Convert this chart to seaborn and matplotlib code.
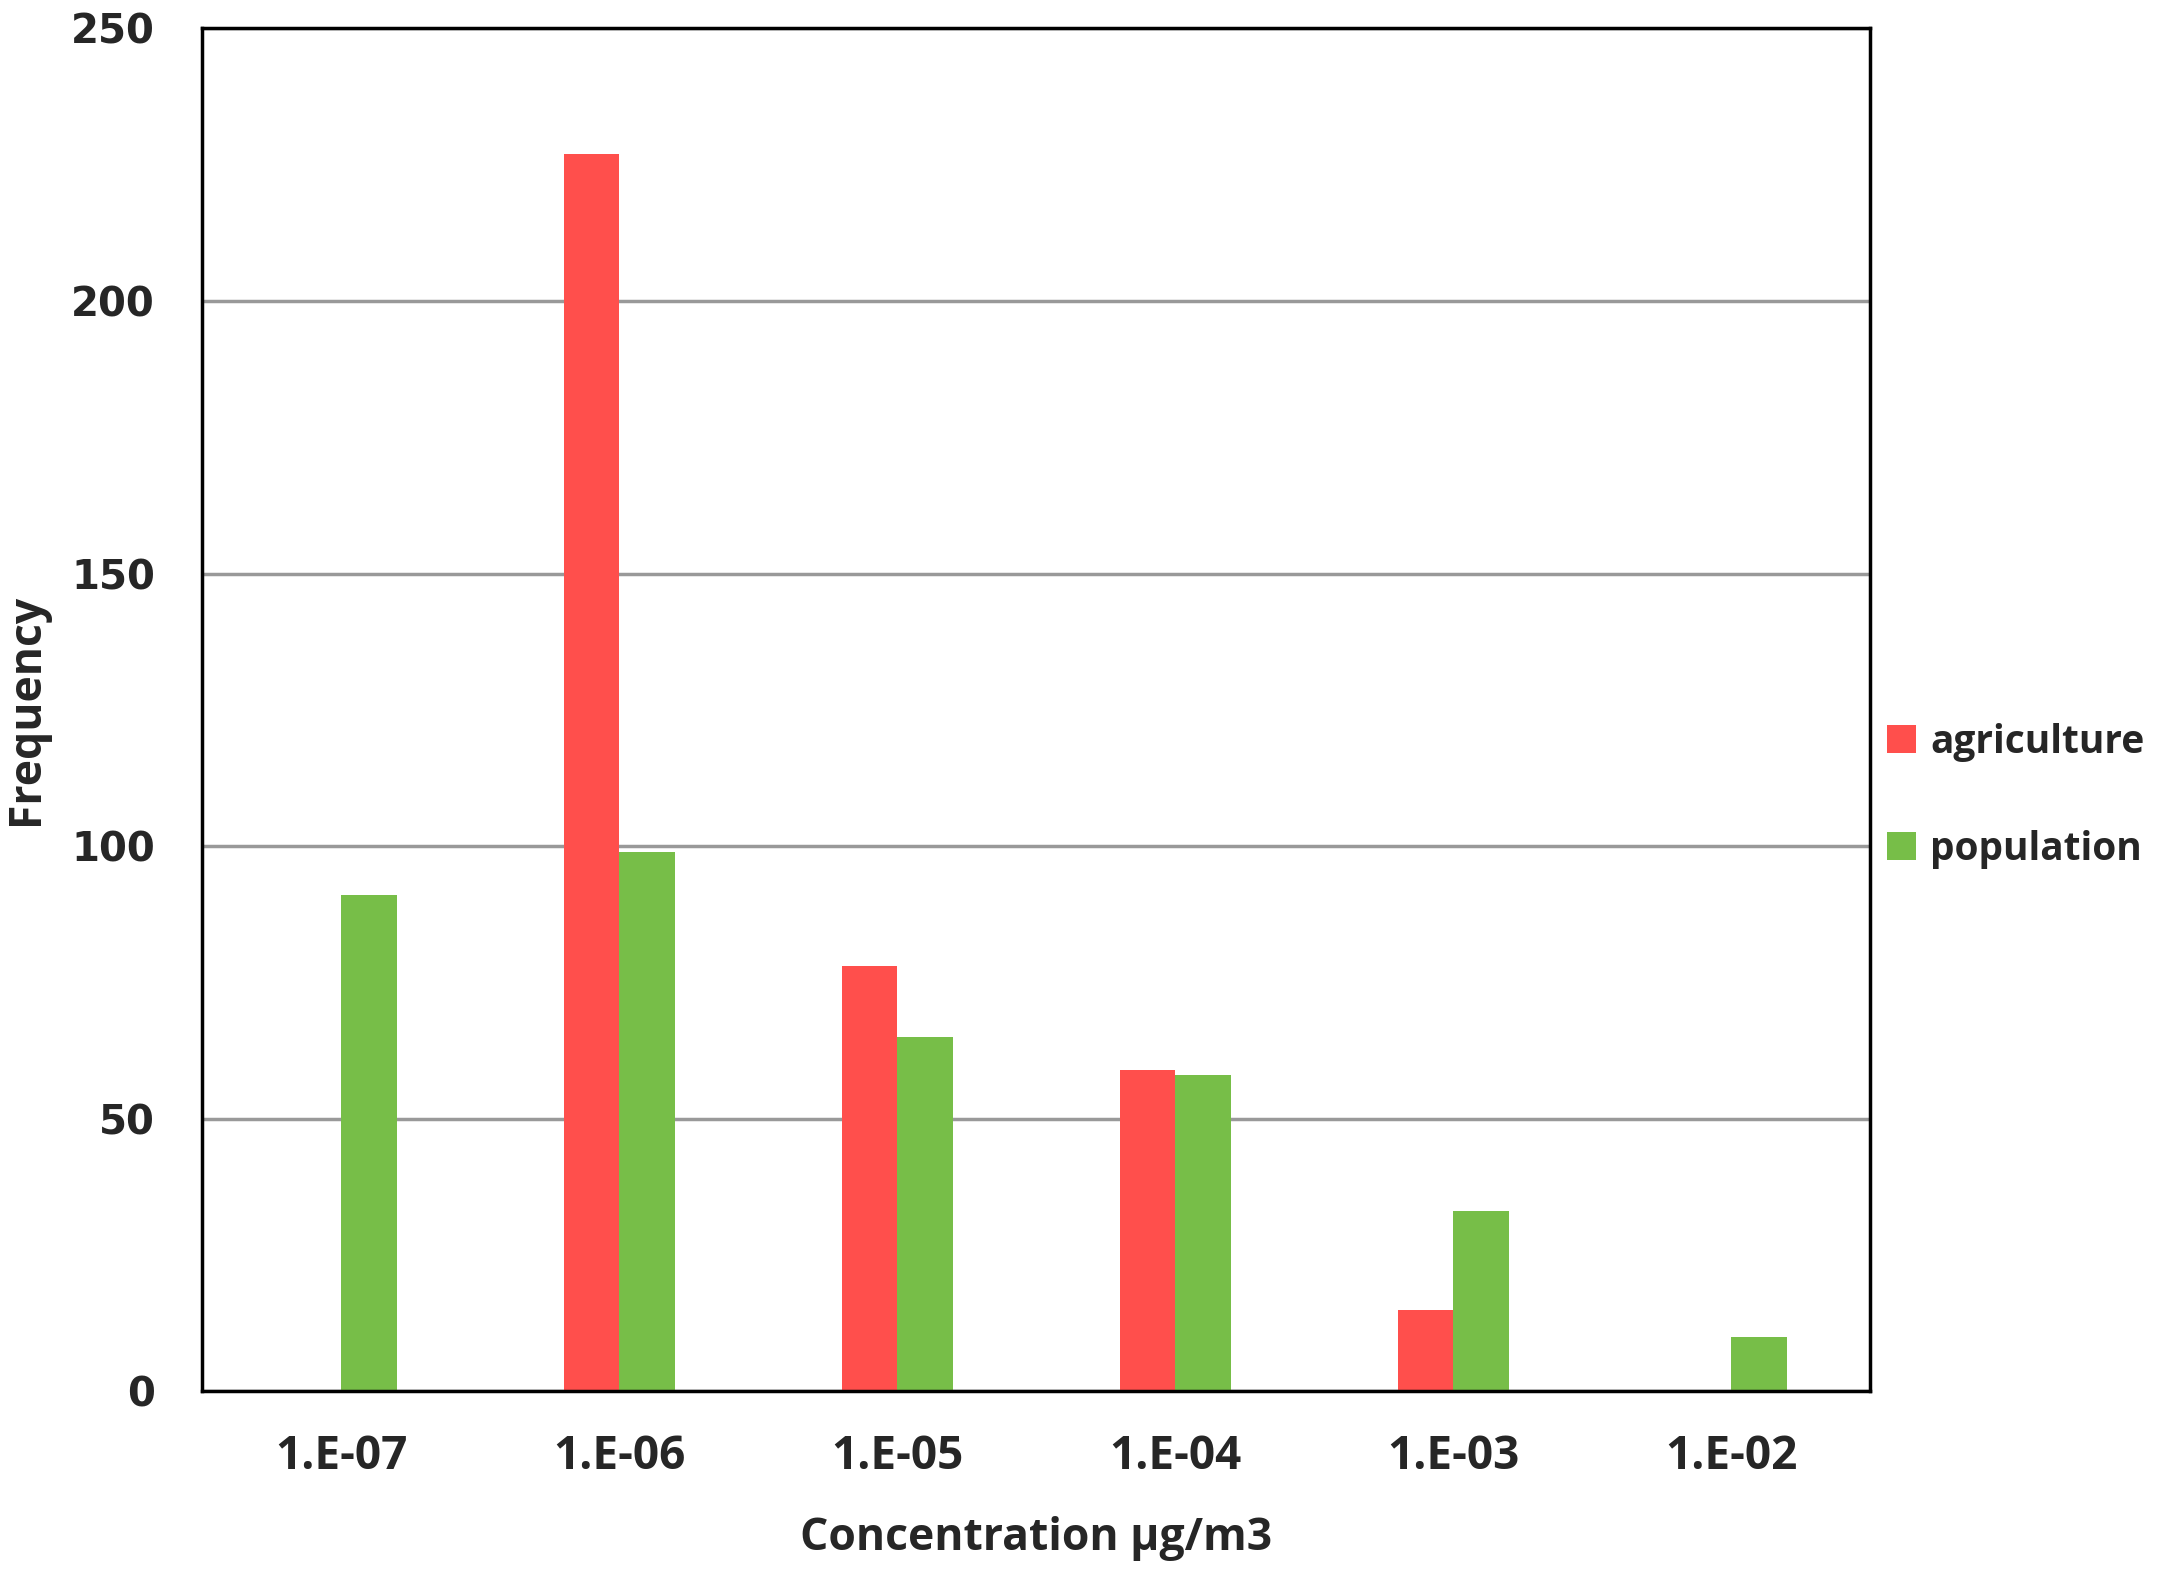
import matplotlib
matplotlib.use("Agg")
import matplotlib.pyplot as plt
import seaborn as sns
import pandas as pd

categories = ["1.E-07", "1.E-06", "1.E-05", "1.E-04", "1.E-03", "1.E-02"]
agriculture = [0, 227, 78, 59, 15, 0]
population = [91, 99, 65, 58, 33, 10]

df = pd.DataFrame({
    "conc": categories * 2,
    "freq": agriculture + population,
    "source": ["agriculture"] * len(categories) + ["population"] * len(categories),
})

sns.set_theme(style="white")
plt.rcParams["font.family"] = ["Open Sans", "DejaVu Sans"]
plt.rcParams["font.weight"] = "bold"

fig = plt.figure(figsize=(21.8, 15.81), dpi=100)
ax = fig.add_axes([0.0927, 0.120, 0.7653, 0.862])

sns.barplot(data=df, x="conc", y="freq", hue="source",
            palette={"agriculture": "#FF4F4C", "population": "#77BE48"},
            width=0.4, gap=0, saturation=1, ax=ax, linewidth=0)

ax.set_ylim(0, 250)
ax.set_yticks([0, 50, 100, 150, 200, 250])
ax.yaxis.grid(True, color="#999999", linewidth=2.5)
ax.set_axisbelow(True)
for s in ax.spines.values():
    s.set_color("black")
    s.set_linewidth(2.5)
ax.tick_params(axis="x", length=0, labelsize=33, pad=30)
ax.tick_params(axis="y", length=0, labelsize=29, pad=34)
for lab in ax.get_xticklabels():
    lab.set_fontweight("bold")
for lab in ax.get_yticklabels():
    lab.set_fontweight("bold")
    lab.set_family("DejaVu Sans")

ax.set_xlabel("Concentration µg/m3", fontsize=32, fontweight="bold", labelpad=26)
ax.set_ylabel("Frequency", fontsize=32, fontweight="bold", labelpad=16,
              family=["Liberation Sans Narrow", "Open Sans", "DejaVu Sans"])

leg = ax.legend(loc="center left", bbox_to_anchor=(1.003, 0.437), frameon=False,
                prop={"size": 28, "weight": "bold"}, handlelength=0.75,
                handleheight=0.75, handletextpad=0.35, labelspacing=1.75,
                borderaxespad=0.0, borderpad=0.3)

fig.savefig("out.png", dpi=100)
